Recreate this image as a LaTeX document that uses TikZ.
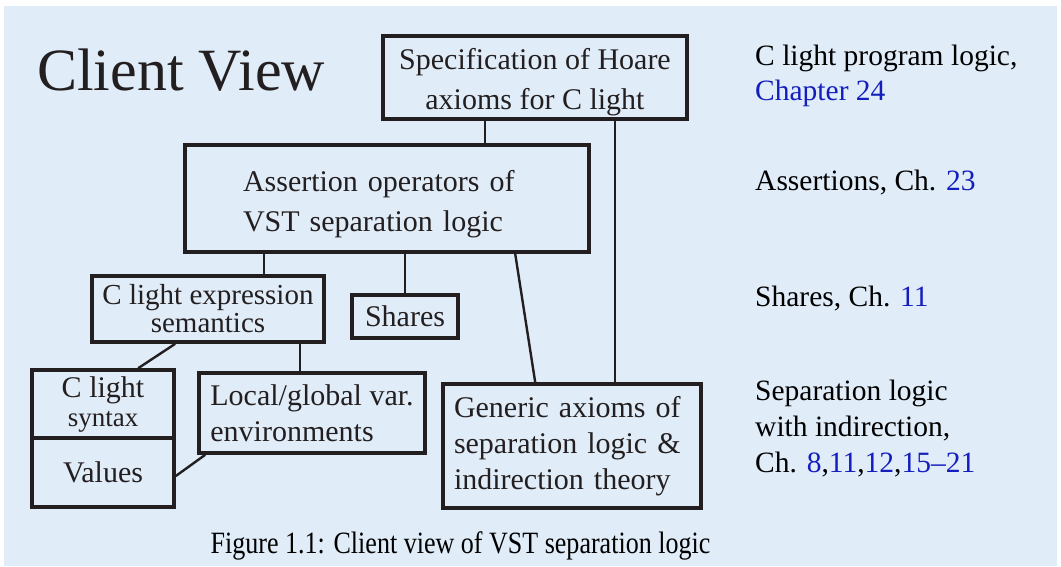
\documentclass[tikz,border=0pt]{standalone}
\usepackage{fontspec}
\setmainfont{Liberation Serif}
\newfontfamily\capfont[FakeStretch=0.84]{Liberation Serif}
\definecolor{viewbg}{RGB}{224,236,248}
\definecolor{edgegray}{RGB}{35,31,32}
\definecolor{chapblue}{RGB}{20,30,190}
\newcommand{\chref}[1]{\textcolor{chapblue}{#1}}

\begin{document}
\begin{tikzpicture}[x=1pt, y=-1pt,
    box/.style = {draw=edgegray, line width=3.6pt, inner sep=0pt, text=edgegray,
                  font=\fontsize{30}{40}\selectfont},
    link/.style = {draw=edgegray, line width=2.4pt},
    side/.style = {anchor=base west, align=left, inner sep=0pt,
                   font=\fontsize{29.5}{36}\selectfont}]

      \useasboundingbox (0,0) rectangle (1061,566);
      \fill[viewbg] (4,6) rectangle (1057,566);

      \node[anchor=base west, inner sep=0pt, text=edgegray, font=\fontsize{60}{62}\selectfont] (title) at (37,90) {Client View};

      \node[box, minimum width=304pt, minimum height=83pt, align=center] (spec) at (535,77.5) {\rule{0pt}{29.5pt}Specification of Hoare\\axioms for C light};
      \node[box, minimum width=404pt, minimum height=107pt, align=left, text width=288pt] (assert) at (387,198.5) {\rule{0pt}{32.5pt}Assertion operators of\\VST separation logic};

      \node[box, minimum width=232pt, minimum height=66pt, align=center, font=\fontsize{29}{28}\selectfont] (expr) at (208,309) {C light expression\\semantics};
      \node[box, minimum width=106pt, minimum height=43pt] (shares) at (405,316.5) {Shares};

      \node[box, minimum width=142pt, minimum height=68pt, align=center, font=\fontsize{30}{29}\selectfont] (syntax) at (103,404) {C light\\{\fontsize{27}{29}\selectfont syntax}};
      \node[box, minimum width=142pt, minimum height=69pt] (values) at (103,472.5) {Values};
      \node[box, minimum width=226pt, minimum height=80pt, align=left, font=\fontsize{30}{36}\selectfont] (local) at (312,413) {Local/global var.\\environments};
      \node[box, minimum width=258pt, minimum height=124pt, align=left, text width=236pt, font=\fontsize{30}{36}\selectfont] (generic) at (572,446) {Generic axioms of\\separation logic \&\\indirection theory};

      \draw[link] ([xshift=104pt]spec.south west) -- ([xshift=302pt]assert.north west);
      \draw[link] ([xshift=234pt]spec.south west) -- ([xshift=174pt]generic.north west);
      \draw[link] ([xshift=332pt]assert.south west) -- ([xshift=94pt]generic.north west);
      \draw[link] ([xshift=81pt]assert.south west) -- ([xshift=174pt]expr.north west);
      \draw[link] ([xshift=222pt]assert.south west) -- ([xshift=55pt]shares.north west);
      \draw[link] ([xshift=85pt]expr.south west) -- ([xshift=108pt]syntax.north west);
      \draw[link] ([xshift=210pt]expr.south west) -- ([xshift=103pt]local.north west);
      \draw[link] ([xshift=8pt]local.south west) -- ([yshift=-3.5pt]values.east);

      % base anchor sits on the last line
      \node[side, font=\fontsize{29.5}{35}\selectfont] (rprog) at (755,100) {C light program logic,\\\chref{Chapter 24}};
      \node[side] (rassert) at (755,190) {Assertions, Ch. \chref{23}};
      \node[side] (rshares) at (755,306) {Shares, Ch. \chref{11}};
      \node[side] (rsep) at (755,472) {Separation logic\\with indirection,\\Ch. \chref{8},\chref{11},\chref{12},\chref{15--21}};

      \node[anchor=base, inner sep=0pt, font=\capfont\fontsize{31}{34}\selectfont] (caption) at (460.5,553) {Figure 1.1: Client view of VST separation logic};
\end{tikzpicture}
\end{document}
